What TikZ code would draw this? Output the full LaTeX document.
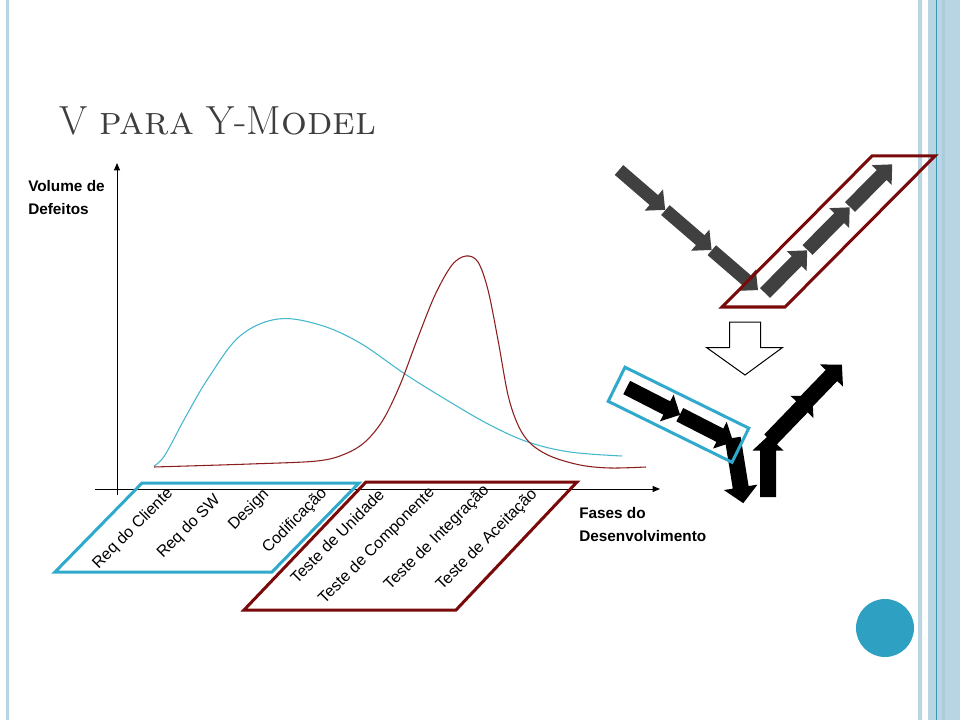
\documentclass[tikz,border=0pt]{standalone}
\usepackage{fontspec}
\newfontfamily\arial{Liberation Sans}
\usetikzlibrary{arrows.meta}
\definecolor{vcyan}{RGB}{48,170,204}
\definecolor{vred}{RGB}{122,10,10}
\definecolor{cyancurve}{RGB}{70,184,206}
\definecolor{redcurve}{RGB}{140,30,30}
\definecolor{arrgray}{RGB}{64,64,64}
\definecolor{titlegray}{RGB}{62,62,62}
\definecolor{paleblue}{RGB}{184,213,228}
\definecolor{midblue}{RGB}{170,204,220}
\definecolor{tealline}{RGB}{58,150,176}
\definecolor{dotblue}{RGB}{46,160,194}
\tikzset{
  phase/.style={font=\arial\fontsize{12}{14}\selectfont, rotate=45, inner sep=0pt},
  axislabel/.style={font=\arial\bfseries\fontsize{11.5}{17}\selectfont, align=left, anchor=north west, inner sep=0pt},
  frame/.style={line width=2.25pt, line join=miter},
  axis/.style={line width=0.75pt, -{Triangle[length=5.5pt,width=4.5pt]}},
  pics/blockarrow/.style n args={4}{code={
    \fill (0,-#2) -- (#1-#4,-#2) -- (#1-#4,-#3) -- (#1,0) -- (#1-#4,#3) -- (#1-#4,#2) -- (0,#2) -- cycle;}}
}
\begin{document}
\begin{tikzpicture}[x=0.75pt,y=-0.75pt]
\useasboundingbox (0,0) rectangle (960,720);
\fill[white] (0,0) rectangle (960,720);
% slide frame
\fill[paleblue] (6,0) rectangle (9,720) (918,0) rectangle (922,720) (928,0) rectangle (960,720);
\fill[midblue] (942,0) rectangle (945,720);
\fill[tealline] (936,0) rectangle (937,720);
\fill[dotblue] (885,628) circle (29);
\node[anchor=base west, inner sep=0pt, text=titlegray, font=\fontsize{30.5}{34}\selectfont] (title) at (59,135) {V \textsc{para} Y-M\textsc{odel}};
% axes
\coordinate (ybot) at (117,495);
\coordinate (ytop) at (117,163);
\coordinate (xleft) at (95,489);
\coordinate (xright) at (660,489);
\draw[axis] (ybot) -- (ytop);
\draw[axis] (xleft) -- (xright);
\node[axislabel] (vol) at (28,180) {Volume de\\Defeitos};
\node[axislabel] (fases) at (579,507) {Fases do\\Desenvolvimento};
% curves
\draw[cyancurve, line width=0.8pt] plot[smooth, tension=0.6] coordinates {(154,466) (165,455) (185,418) (209,377) (240,336) (278,319) (320,325) (360,343) (405,374) (450,402) (490,425) (528,442) (570,452) (622,456)};
\draw[redcurve, line width=0.8pt] plot[smooth, tension=0.55] coordinates {(154,467) (250,464) (317,461) (345,454) (365,442) (383,420) (400,385) (417,340) (435,295) (452,265) (466,256) (478,262) (488,290) (498,340) (508,395) (518,425) (530,443) (550,456) (580,465) (610,468) (646,467)};
% phases
\draw[frame, vcyan] (55,572) -- (142,483) -- (359,483) -- (272,572) -- cycle;
\draw[frame, vred] (244,610) -- (366,482) -- (577,482) -- (456,610) -- cycle;
\node[phase] (req1) at (133,529) {Req do Cliente};
\node[phase] (req2) at (189,527) {Req do SW};
\node[phase] (des) at (249,510) {Design};
\node[phase] (cod) at (295,521) {Codificação};
\node[phase] (t1) at (337,536) {Teste de Unidade};
\node[phase] (t2) at (377,546) {Teste de Componente};
\node[phase] (t3) at (437,538) {Teste de Integração};
\node[phase] (t4) at (487,540) {Teste de Aceitação};
% V model
\foreach \i in {0,1,2}
  \pic[fill=arrgray, rotate=-40.8] at ({619+46.4*\i},{170+40.1*\i}) {blockarrow={61}{6.5}{14}{15}};
\foreach \i in {0,1,2}
  \pic[fill=arrgray, rotate=45.3] at ({765+42.5*\i},{293-43*\i}) {blockarrow={60}{7}{14}{15}};
\draw[frame, vred] (722,307) -- (785,307) -- (935,156) -- (872,156) -- cycle;
\draw[line width=0.75pt, fill=white] (729.5,322) -- (760.5,322) -- (760.5,347.5) -- (782.5,347.5) -- (745,375) -- (706.5,347.5) -- (729.5,347.5) -- cycle;
% Y model
\pic[fill=black, rotate=-80.8] at (732.7,438) {blockarrow={66}{8}{17}{16}};
\foreach \i in {0,1}
  \pic[fill=black, rotate=-27.1] at ({626.7+53.1*\i},{387.5+27.2*\i}) {blockarrow={60}{7.5}{15}{15}};
\pic[fill=black, rotate=90] at (768,497) {blockarrow={61}{8}{15.5}{14.5}};
\pic[fill=black, rotate=46] at (770,440) {blockarrow={61}{8}{16}{15}};
\pic[fill=black, rotate=46] at (803,405) {blockarrow={56}{8}{16}{15}};
\draw[frame, vcyan, rotate around={-26.2:(678.5,414.75)}] (609.5,395.75) rectangle (747.5,433.75);
\end{tikzpicture}
\end{document}
